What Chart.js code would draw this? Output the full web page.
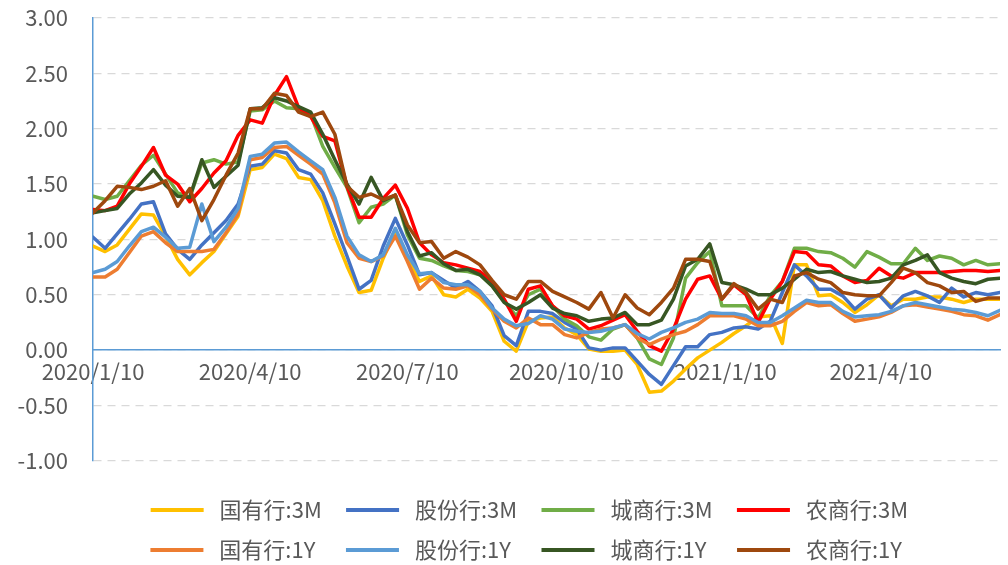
<!DOCTYPE html>
<html>
<head>
<meta charset="utf-8">
<script src="https://cdn.jsdelivr.net/npm/chart.js@4.4.1/dist/chart.umd.min.js"></script>
<style>
    html, body { margin: 0; padding: 0; background: #fff; }
    #wrap { width: 1008px; height: 565px; }
</style>
</head>
<body>
<div id="wrap"><canvas id="rateChart" width="1008" height="565"></canvas></div>
<script>
// weekly points starting 2020/1/10
const startDate = '2020/1/10';
const tickDates = ['2020/1/10', '2020/4/10', '2020/7/10', '2020/10/10', '2021/1/10', '2021/4/10'];

const seriesNames = ['国有行:3M', '股份行:3M', '城商行:3M', '农商行:3M', '国有行:1Y', '股份行:1Y', '城商行:1Y', '农商行:1Y'];

const guoyou3M = [0.94, 0.89, 0.95, 1.09, 1.23, 1.22, 1.03, 0.82, 0.68, 0.79, 0.89, 1.05, 1.21, 1.63, 1.65, 1.77, 1.73, 1.56, 1.54, 1.35,
    1.03, 0.76, 0.52, 0.54, 0.83, 1.07, 0.83, 0.62, 0.67, 0.50, 0.48, 0.55, 0.47, 0.35, 0.08, -0.01, 0.26, 0.29, 0.30, 0.20,
    0.14, 0.01, -0.01, -0.01, 0.00, -0.13, -0.38, -0.37, -0.28, -0.17, -0.07, 0.00, 0.07, 0.15, 0.22, 0.30, 0.31, 0.06, 0.77, 0.77,
    0.49, 0.50, 0.43, 0.34, 0.41, 0.50, 0.40, 0.46, 0.46, 0.48, 0.48, 0.46, 0.43, 0.46, 0.46, 0.46];
const gufen3M = [1.02, 0.92, 1.05, 1.18, 1.32, 1.34, 1.05, 0.91, 0.82, 0.95, 1.06, 1.17, 1.32, 1.66, 1.68, 1.80, 1.78, 1.63, 1.59, 1.42,
    1.14, 0.85, 0.55, 0.63, 0.94, 1.19, 0.95, 0.68, 0.70, 0.63, 0.56, 0.62, 0.53, 0.40, 0.13, 0.04, 0.35, 0.35, 0.33, 0.25,
    0.19, 0.02, 0.00, 0.02, 0.02, -0.10, -0.22, -0.31, -0.14, 0.03, 0.03, 0.14, 0.16, 0.20, 0.21, 0.19, 0.26, 0.52, 0.77, 0.67,
    0.55, 0.55, 0.49, 0.37, 0.46, 0.50, 0.38, 0.49, 0.53, 0.49, 0.43, 0.56, 0.48, 0.52, 0.50, 0.52];
const chengshang3M = [1.39, 1.36, 1.39, 1.53, 1.67, 1.76, 1.59, 1.42, 1.38, 1.69, 1.72, 1.68, 1.70, 2.16, 2.17, 2.25, 2.19, 2.18, 2.13, 1.84,
    1.65, 1.47, 1.15, 1.29, 1.32, 1.40, 1.04, 0.83, 0.81, 0.76, 0.72, 0.71, 0.68, 0.58, 0.44, 0.31, 0.50, 0.55, 0.40, 0.28,
    0.22, 0.12, 0.09, 0.19, 0.23, 0.11, -0.08, -0.13, 0.11, 0.65, 0.79, 0.89, 0.40, 0.40, 0.40, 0.29, 0.49, 0.62, 0.92, 0.92,
    0.89, 0.88, 0.83, 0.75, 0.89, 0.84, 0.78, 0.78, 0.92, 0.81, 0.85, 0.83, 0.77, 0.81, 0.77, 0.78];
const nongshang3M = [1.27, 1.26, 1.30, 1.50, 1.66, 1.83, 1.58, 1.50, 1.34, 1.46, 1.60, 1.71, 1.94, 2.08, 2.05, 2.30, 2.47, 2.19, 2.11, 1.93,
    1.89, 1.48, 1.20, 1.20, 1.37, 1.49, 1.28, 0.97, 0.86, 0.79, 0.77, 0.74, 0.71, 0.62, 0.46, 0.26, 0.55, 0.58, 0.40, 0.31,
    0.28, 0.19, 0.22, 0.27, 0.32, 0.17, 0.04, -0.01, 0.19, 0.46, 0.64, 0.67, 0.46, 0.59, 0.50, 0.25, 0.46, 0.62, 0.89, 0.88,
    0.77, 0.76, 0.67, 0.61, 0.63, 0.74, 0.67, 0.65, 0.70, 0.70, 0.70, 0.71, 0.72, 0.72, 0.71, 0.72];
const guoyou1Y = [0.66, 0.66, 0.73, 0.88, 1.03, 1.07, 0.97, 0.89, 0.89, 0.89, 0.91, 1.06, 1.23, 1.72, 1.74, 1.83, 1.84, 1.76, 1.68, 1.59,
    1.33, 0.97, 0.83, 0.80, 0.85, 1.03, 0.80, 0.55, 0.65, 0.56, 0.55, 0.58, 0.50, 0.37, 0.26, 0.20, 0.29, 0.23, 0.23, 0.14,
    0.11, 0.16, 0.19, 0.20, 0.23, 0.11, 0.05, 0.10, 0.14, 0.17, 0.23, 0.31, 0.31, 0.31, 0.28, 0.22, 0.22, 0.26, 0.35, 0.43,
    0.40, 0.41, 0.33, 0.26, 0.28, 0.30, 0.34, 0.40, 0.41, 0.39, 0.37, 0.35, 0.32, 0.31, 0.27, 0.32];
const gufen1Y = [0.70, 0.73, 0.80, 0.94, 1.07, 1.11, 1.02, 0.92, 0.93, 1.32, 0.98, 1.11, 1.28, 1.75, 1.77, 1.87, 1.88, 1.79, 1.71, 1.63,
    1.38, 1.03, 0.86, 0.80, 0.86, 1.10, 0.86, 0.69, 0.70, 0.61, 0.59, 0.59, 0.53, 0.38, 0.28, 0.22, 0.24, 0.31, 0.28, 0.19,
    0.17, 0.16, 0.17, 0.20, 0.23, 0.15, 0.10, 0.16, 0.20, 0.25, 0.28, 0.34, 0.33, 0.33, 0.31, 0.25, 0.25, 0.31, 0.38, 0.45,
    0.43, 0.43, 0.35, 0.30, 0.31, 0.32, 0.35, 0.40, 0.43, 0.41, 0.39, 0.37, 0.36, 0.34, 0.31, 0.36];
const chengshang1Y = [1.24, 1.26, 1.28, 1.41, 1.51, 1.63, 1.49, 1.39, 1.38, 1.72, 1.47, 1.57, 1.67, 2.18, 2.19, 2.28, 2.25, 2.20, 2.15, 1.95,
    1.72, 1.50, 1.32, 1.56, 1.35, 1.40, 1.07, 0.85, 0.88, 0.78, 0.72, 0.73, 0.68, 0.58, 0.43, 0.37, 0.43, 0.50, 0.38, 0.33,
    0.31, 0.26, 0.28, 0.29, 0.34, 0.23, 0.23, 0.27, 0.46, 0.76, 0.82, 0.96, 0.61, 0.59, 0.55, 0.50, 0.50, 0.56, 0.64, 0.73,
    0.70, 0.71, 0.67, 0.64, 0.61, 0.62, 0.65, 0.77, 0.81, 0.86, 0.70, 0.65, 0.62, 0.60, 0.64, 0.65];
const nongshang1Y = [1.24, 1.35, 1.48, 1.47, 1.45, 1.48, 1.53, 1.30, 1.46, 1.17, 1.36, 1.58, 1.78, 2.18, 2.18, 2.32, 2.30, 2.15, 2.11, 2.15,
    1.95, 1.48, 1.38, 1.41, 1.36, 1.40, 1.13, 0.97, 0.98, 0.83, 0.89, 0.84, 0.77, 0.63, 0.50, 0.46, 0.62, 0.62, 0.53, 0.48,
    0.43, 0.37, 0.52, 0.29, 0.50, 0.38, 0.32, 0.43, 0.56, 0.82, 0.82, 0.80, 0.46, 0.60, 0.52, 0.37, 0.46, 0.43, 0.67, 0.70,
    0.64, 0.61, 0.52, 0.50, 0.49, 0.49, 0.61, 0.74, 0.70, 0.61, 0.58, 0.52, 0.53, 0.44, 0.47, 0.47];

const seriesValues = [guoyou3M, gufen3M, chengshang3M, nongshang3M, guoyou1Y, gufen1Y, chengshang1Y, nongshang1Y];
const seriesColors = ['#FFC000', '#4472C4', '#70AD47', '#FF0000', '#ED7D31', '#5B9BD5', '#375623', '#9E480E'];

const fontFamily = "'Noto Sans CJK SC', 'Noto Sans', sans-serif";
const fontSize = 22;
const textColor = '#595959';
const axisColor = '#5B9BD5';

function toUTC(s) {
    const [y, m, d] = s.split('/').map(Number);
    return Date.UTC(y, m - 1, d);
}

// position of a date on the x axis, in weeks since the first point
function weekOf(s) {
    return (toUTC(s) - toUTC(startDate)) / (7 * 86400000);
}

// nudge the legend block to the right, like the original
const legendShift = {
    id: 'legendShift',
    afterLayout(chart) {
        chart.legend.left += 26;
        chart.legend.right += 26;
    }
};

Chart.defaults.font.family = fontFamily;
Chart.defaults.font.size = fontSize;
Chart.defaults.color = textColor;

const datasets = seriesNames.map((name, i) => ({
    label: name,
    data: seriesValues[i].map((v, k) => ({ x: k, y: v })),
    borderColor: seriesColors[i],
    backgroundColor: seriesColors[i],
    borderWidth: 3.5,
    pointRadius: 0,
    tension: 0,
    borderJoinStyle: 'round',
    borderCapStyle: 'round',
    order: seriesNames.length - i  // later series drawn on top
}));

const ctx = document.getElementById('rateChart').getContext('2d');
const chart = new Chart(ctx, {
    type: 'line',
    data: { datasets },
    plugins: [legendShift],
    options: {
        responsive: false,
        animation: false,
        layout: {
            padding: { top: 18, right: 8, bottom: -6, left: 13 }
        },
        plugins: {
            tooltip: { enabled: false },
            legend: {
                position: 'bottom',
                title: { display: true, text: '', padding: { top: 19, bottom: 0 }, font: { size: 1 } },
                labels: {
                    boxWidth: 53,
                    boxHeight: 4,
                    padding: 18,
                    color: textColor,
                    font: { size: fontSize },
                    generateLabels(chart) {
                        const items = Chart.defaults.plugins.legend.labels.generateLabels(chart);
                        const c = chart.ctx;
                        c.save();
                        c.font = fontSize + 'px ' + fontFamily;
                        items.forEach(item => {
                            item.lineWidth = 0;
                            let t = ' ' + item.text;
                            // pad so every entry takes the same room
                            let n = 0;
                            while (c.measureText(t + ' ').width <= 113 && n++ < 20) t += ' ';
                            n = 0;
                            while (c.measureText(t).width < 113 && n++ < 30) t += '\u200A';
                            item.text = t;
                        });
                        c.restore();
                        return items.sort((a, b) => a.datasetIndex - b.datasetIndex);
                    }
                }
            }
        },
        scales: {
            x: {
                type: 'linear',
                min: 0,
                max: seriesValues[0].length - 1,
                position: { y: 0 },
                grid: { display: false, drawTicks: false },
                border: { color: axisColor, width: 1.5 },
                afterBuildTicks(scale) {
                    scale.ticks = tickDates.map(d => ({ value: weekOf(d) }));
                },
                ticks: {
                    autoSkip: false,
                    maxRotation: 0,
                    padding: 8,
                    color: textColor,
                    callback: (value, index) => tickDates[index]
                }
            },
            y: {
                min: -1,
                max: 3,
                afterFit(scale) {
                    scale.width = 80;
                },
                grid: {
                    color: '#D9D9D9',
                    lineWidth: 1.3,
                    drawTicks: true,
                    tickLength: 22,
                    tickColor: 'rgba(0,0,0,0)'
                },
                border: { color: axisColor, width: 1.5, dash: [8, 6] },
                ticks: {
                    stepSize: 0.5,
                    padding: 3,
                    color: textColor,
                    callback: v => v.toFixed(2)
                }
            }
        }
    }
});
</script>
</body>
</html>
